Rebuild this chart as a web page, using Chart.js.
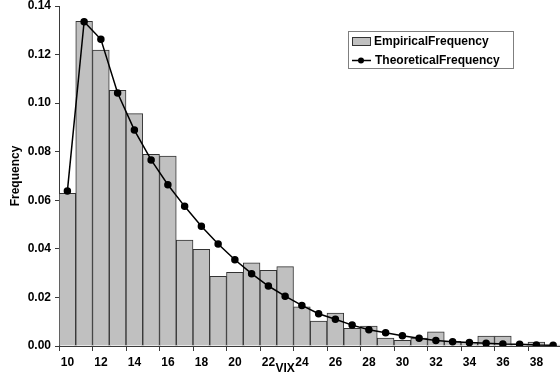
<!DOCTYPE html>
<html>
<head>
  <meta charset="UTF-8" />
  <title>VIX</title>
  <script src="https://cdn.jsdelivr.net/npm/chart.js"></script>
  <style>
    html, body {
      margin: 0;
      padding: 0;
      background-color: white;
      overflow: hidden;
    }
    #wrap {
      position: relative;
      width: 567px;
      height: 378px;
    }
  </style>
</head>
<body>
  <div id="wrap"><canvas id="chart"></canvas></div>

  <script>
    // VIX buckets (10 .. 39)
    const vixLevels = ['10','11','12','13','14','15','16','17','18','19','20','21','22','23','24',
                       '25','26','27','28','29','30','31','32','33','34','35','36','37','38','39'];

    const empiricalFrequency = [0.0629, 0.1337, 0.1219, 0.1053, 0.0957, 0.0789, 0.0782, 0.0436, 0.0398, 0.0287,
                                0.0303, 0.0342, 0.0312, 0.0327, 0.0161, 0.0103, 0.0136, 0.0073, 0.0082, 0.0033,
                                0.0023, 0.0033, 0.0058, 0.0019, 0.0015, 0.0041, 0.0041, 0.0008, 0.0016, 0.0004];

    const theoreticalFrequency = [0.0638, 0.1335, 0.1263, 0.1042, 0.0889, 0.0766, 0.0664, 0.0575, 0.0493, 0.0420,
                                  0.0355, 0.0298, 0.0247, 0.0205, 0.0167, 0.0133, 0.0110, 0.0086, 0.0067, 0.0055,
                                  0.0042, 0.0032, 0.0023, 0.0018, 0.0014, 0.0011, 0.0008, 0.0007, 0.0004, 0.0003];

    const yTicks = [0, 0.02, 0.04, 0.06, 0.08, 0.10, 0.12, 0.14];

    const FONT = { family: '"Liberation Sans", Arial, sans-serif', size: 12, weight: 'bold' };
    const AXIS = '#3a3a3a';

    // legend box in the upper right + the "VIX" axis caption
    const extras = {
      id: 'extras',
      afterDraw(chart) {
        const ctx = chart.ctx;
        const bars = chart.data.datasets.find(d => d.type === 'bar');
        const line = chart.data.datasets.find(d => d.type === 'line');
        ctx.save();
        ctx.font = 'bold 12px "Liberation Sans", Arial, sans-serif';
        ctx.textBaseline = 'middle';
        ctx.textAlign = 'left';

        // legend frame
        ctx.fillStyle = 'white';
        ctx.fillRect(348, 31, 165, 37);
        ctx.strokeStyle = '#7f7f7f';
        ctx.lineWidth = 1;
        ctx.strokeRect(348.5, 31.5, 165, 37);

        // bar swatch
        ctx.fillStyle = bars.backgroundColor;
        ctx.fillRect(352, 37, 18, 8);
        ctx.strokeStyle = bars.borderColor;
        ctx.strokeRect(352.5, 37.5, 18, 8);
        ctx.fillStyle = '#000';
        ctx.fillText(bars.label, 374, 42);

        // line swatch
        ctx.strokeStyle = line.borderColor;
        ctx.lineWidth = 1.5;
        ctx.beginPath();
        ctx.moveTo(352, 60.5);
        ctx.lineTo(371, 60.5);
        ctx.stroke();
        ctx.beginPath();
        ctx.arc(361, 60.5, 3, 0, Math.PI * 2);
        ctx.fillStyle = line.pointBackgroundColor;
        ctx.fill();
        ctx.fillStyle = '#000';
        ctx.fillText(line.label, 375, 61);

        // x axis caption sits beside the tick labels
        const xs = chart.scales.x;
        ctx.textAlign = 'center';
        ctx.fillText('VIX', xs.getPixelForValue(13), 369);
        ctx.restore();
      }
    };

    const ctx = document.getElementById('chart').getContext('2d');
    new Chart(ctx, {
      data: {
        labels: vixLevels,
        datasets: [
          {
            type: 'bar',
            label: 'EmpiricalFrequency',
            data: empiricalFrequency,
            backgroundColor: '#c0c0c0',
            borderColor: '#333',
            borderWidth: 1,
            barPercentage: 1,
            categoryPercentage: 1,
            order: 1
          },
          {
            type: 'line',
            label: 'TheoreticalFrequency',
            data: theoreticalFrequency,
            borderColor: '#000',
            borderWidth: 1.5,
            pointBackgroundColor: '#000',
            pointBorderColor: '#000',
            pointRadius: 3,
            tension: 0,
            order: 0
          }
        ]
      },
      options: {
        responsive: true,
        maintainAspectRatio: false,
        animation: false,
        layout: { padding: 0 },
        plugins: {
          legend: { display: false },
          tooltip: { enabled: false }
        },
        scales: {
          x: {
            type: 'category',
            offset: true,
            grid: {
              offset: true,
              drawOnChartArea: false,
              tickLength: 5,
              color: c => (c.index % 2 === 0 ? AXIS : 'rgba(0,0,0,0)')
            },
            border: { display: true, color: AXIS, width: 1 },
            ticks: {
              autoSkip: false,
              maxRotation: 0,
              padding: 4,
              color: '#000',
              font: FONT,
              callback: (v, i) => (i % 2 === 0 ? vixLevels[i] : '')
            },
            afterFit: s => { s.height = 32; s.paddingLeft = 0; s.paddingRight = 0; }
          },
          y: {
            min: 0,
            max: 0.14,
            afterBuildTicks: s => { s.ticks = yTicks.map(v => ({ value: v })); },
            grid: {
              drawOnChartArea: false,
              tickLength: 4,
              color: AXIS
            },
            border: { display: true, color: AXIS, width: 1 },
            ticks: {
              padding: 4,
              color: '#000',
              font: FONT,
              callback: v => v.toFixed(2)
            },
            title: {
              display: true,
              text: 'Frequency',
              color: '#000',
              font: FONT,
              padding: { top: 8, bottom: 0 }
            },
            afterFit: s => { s.width = 59; s.paddingTop = 6; s.paddingBottom = 0; }
          }
        }
      },
      plugins: [extras]
    });
  </script>
</body>
</html>
